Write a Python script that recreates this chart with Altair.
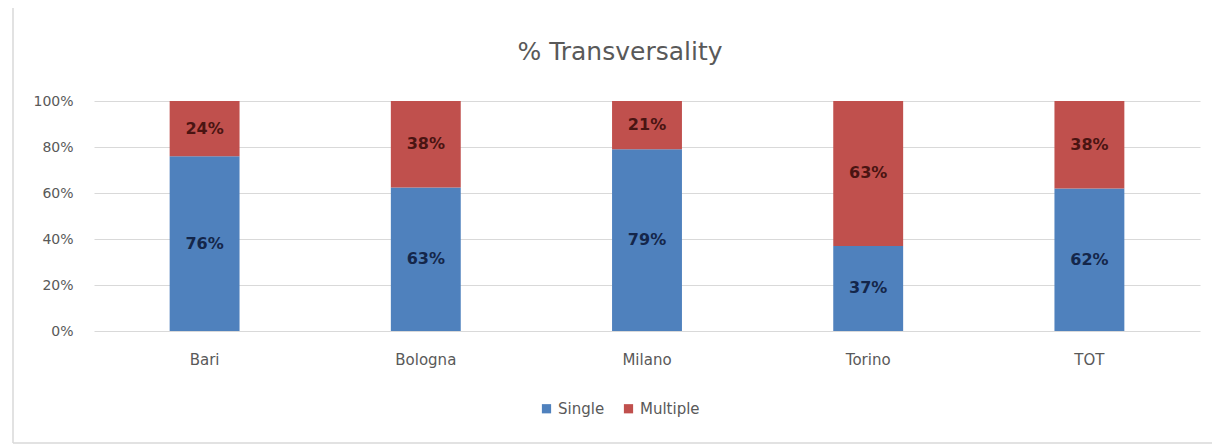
import altair as alt
import pandas as pd

cities = ["Bari", "Bologna", "Milano", "Torino", "TOT"]
single = [76, 63, 79, 37, 62]
multiple = [24, 38, 21, 63, 38]
series = ["Single", "Multiple"]
colors = ["#4F81BD", "#C0504D"]
label_colors = ["#14264a", "#4a1412"]
title_text = "% Transversality"

rows = []
for c, s, m in zip(cities, single, multiple):
    rows.append({"city": c, "series": "Single", "value": s, "ord": 0})
    rows.append({"city": c, "series": "Multiple", "value": m, "ord": 1})
df = pd.DataFrame(rows)

FONT = "DejaVu Sans"
GREY = "#595959"

base = alt.Chart(df).transform_joinaggregate(
    total="sum(value)", groupby=["city"]
).transform_calculate(
    pct="datum.value / datum.total"
).transform_stack(
    stack="pct", groupby=["city"], as_=["y0", "y1"], sort=[alt.SortField("ord", order="ascending")]
).transform_calculate(
    ymid="(datum.y0 + datum.y1) / 2",
    lab="format(datum.value, 'd') + '%'"
)

x = alt.X("city:N", sort=cities, title=None,
          scale=alt.Scale(paddingInner=0.684, paddingOuter=0.342),
          axis=alt.Axis(labelAngle=0, ticks=False, domain=False, labelPadding=21,
                        labelFontSize=15, labelColor=GREY, labelFont=FONT))

bars = base.mark_bar().encode(
    x=x,
    y=alt.Y("y0:Q", title=None, scale=alt.Scale(domain=[0, 1], nice=False),
            axis=alt.Axis(format="%", values=[0, 0.2, 0.4, 0.6, 0.8, 1.0], ticks=False,
                          domain=False, labelPadding=21, labelFontSize=14,
                          labelColor=GREY, labelFont=FONT, gridColor="#d9d9d9")),
    y2="y1:Q",
    color=alt.Color("series:N", sort=series,
                    scale=alt.Scale(domain=series, range=colors),
                    legend=alt.Legend(title=None, orient="none", direction="horizontal",
                                      legendX=445, legendY=300, symbolType="square",
                                      symbolSize=85, symbolStrokeWidth=0,
                                      labelFontSize=15, labelColor=GREY,
                                      labelFont=FONT, columnPadding=16, symbolOffset=0,
                                      labelOffset=4)),
    order=alt.Order("ord:Q"),
)

texts = base.mark_text(fontSize=16, fontWeight="bold", font=FONT).encode(
    x=alt.X("city:N", sort=cities),
    y=alt.Y("ymid:Q"),
    text="lab:N",
    color=alt.Color("series:N", scale=alt.Scale(domain=series, range=label_colors), legend=None),
)

title_df = pd.DataFrame({"t": [title_text]})
title_mark = alt.Chart(title_df).mark_text(
    fontSize=25, font=FONT, color=GREY, align="center", baseline="alphabetic"
).encode(x=alt.value(526), y=alt.value(-41), text="t:N")

frame_left = alt.Chart(title_df).mark_rule(color="#d9d9d9", strokeWidth=1.5).encode(
    x=alt.value(-81), y=alt.value(-93), y2=alt.value(342)
)
frame_bottom = alt.Chart(title_df).mark_rule(color="#d9d9d9", strokeWidth=1.5).encode(
    x=alt.value(-81), x2=alt.value(1118), y=alt.value(342)
)

chart = alt.layer(bars, texts, title_mark, frame_left, frame_bottom).resolve_scale(
    color="independent"
).properties(
    width=1106, height=230,
    padding={"left": 94, "top": 101, "right": 12, "bottom": 113},
    autosize=alt.AutoSizeParams(type="none"),
).configure(background="white").configure_view(stroke=None)

chart.save("out.html", embed_options={"renderer": "svg", "actions": False})
